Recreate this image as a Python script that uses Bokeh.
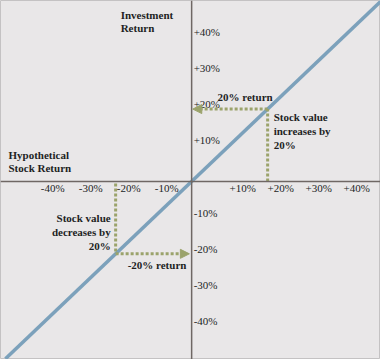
from bokeh.plotting import figure
from bokeh.models import Range1d, Arrow, NormalHead, Span
from bokeh.core.properties import value
from bokeh.embed import file_html
from bokeh.resources import INLINE

# ---- data ----
tick_values = [-40, -30, -20, -10, 10, 20, 30, 40]
x_tick_labels = ["-40%", "-30%", "-20%", "-10%", "+10%", "+20%", "+30%", "+40%"]
y_tick_labels = ["-40%", "-30%", "-20%", "-10%", "+10%", "+20%", "+30%", "+40%"]
line_x = [-49, 50]          # stock return
line_y = [-49, 50]          # investment return (1:1)
gain = 20                   # example up move
loss = -20                  # example down move

BG = "#e9e7e8"
BLUE = "#7ca1bb"
GREEN = "#9ba36b"
AXIS = "#6f6764"
TXT = "#221f1f"
FONT = "Liberation Serif"

p = figure(width=380, height=359, output_backend="svg", toolbar_location=None,
           x_range=Range1d(-50.3, 49.7), y_range=Range1d(-49.2, 50.0),
           x_axis_location=None, y_axis_location=None, min_border=0,
           background_fill_color=BG, border_fill_color=BG)
p.grid.visible = False
p.outline_line_color = "#c4c2c3"
p.outline_line_width = 1

# axes through origin
p.add_layout(Span(location=0, dimension="width", line_color=AXIS, line_width=1.5))
p.add_layout(Span(location=0, dimension="height", line_color=AXIS, line_width=1.5))

# 1:1 line
p.line(line_x, line_y, line_color=BLUE, line_width=3.5)

# guides for +20%
p.line([gain, gain], [0, gain], line_color=GREEN, line_width=3, line_dash="3 2")
p.add_layout(Arrow(x_start=gain, y_start=gain, x_end=0.3, y_end=gain,
                   line_color=GREEN, line_width=3, line_dash="3 2",
                   end=NormalHead(size=9, fill_color=GREEN, line_color=GREEN, line_width=1)))
# guides for -20%
p.line([loss, loss], [-0.6, loss], line_color=GREEN, line_width=3, line_dash="3 2")
p.add_layout(Arrow(x_start=loss, y_start=loss, x_end=-0.6, y_end=loss,
                   line_color=GREEN, line_width=3, line_dash="3 2",
                   end=NormalHead(size=9, fill_color=GREEN, line_color=GREEN, line_width=1)))

# tick labels
p.text(x=tick_values, y=[0] * len(tick_values), text=x_tick_labels,
       text_font=value(FONT), text_font_size="11px", text_color=TXT,
       text_align="center", text_baseline="middle", x_offset=13, y_offset=7)
p.text(x=[0] * len(tick_values), y=tick_values, text=y_tick_labels,
       text_font=value(FONT), text_font_size="11px", text_color=TXT,
       text_align="left", text_baseline="middle", x_offset=2, y_offset=-5)

bold = dict(text_font=value(FONT), text_font_size="11px", text_font_style="bold",
            text_color=TXT, text_line_height=1.15)

p.text(x=[0], y=[50.0], text=["Investment\nReturn"], text_align="left",
       text_baseline="top", x_offset=-71, y_offset=8, **bold)
p.text(x=[-50.3], y=[0], text=["Hypothetical\nStock Return"], text_align="left",
       text_baseline="bottom", x_offset=8, y_offset=-7, **bold)
p.text(x=[gain], y=[gain], text=["20% return"], text_align="right",
       text_baseline="middle", x_offset=5, y_offset=-12, **bold)
p.text(x=[gain], y=[gain], text=["Stock value\nincreases by\n20%"], text_align="left",
       text_baseline="top", x_offset=6, y_offset=2, **bold)
p.text(x=[loss], y=[loss], text=["Stock value\ndecreases by\n20%"], text_align="right",
       text_baseline="bottom", x_offset=-5, y_offset=-2, **bold)
p.text(x=[loss], y=[loss], text=["-20% return"], text_align="left",
       text_baseline="middle", x_offset=12, y_offset=11, **bold)

open("out.html", "w").write(file_html(p, INLINE))
